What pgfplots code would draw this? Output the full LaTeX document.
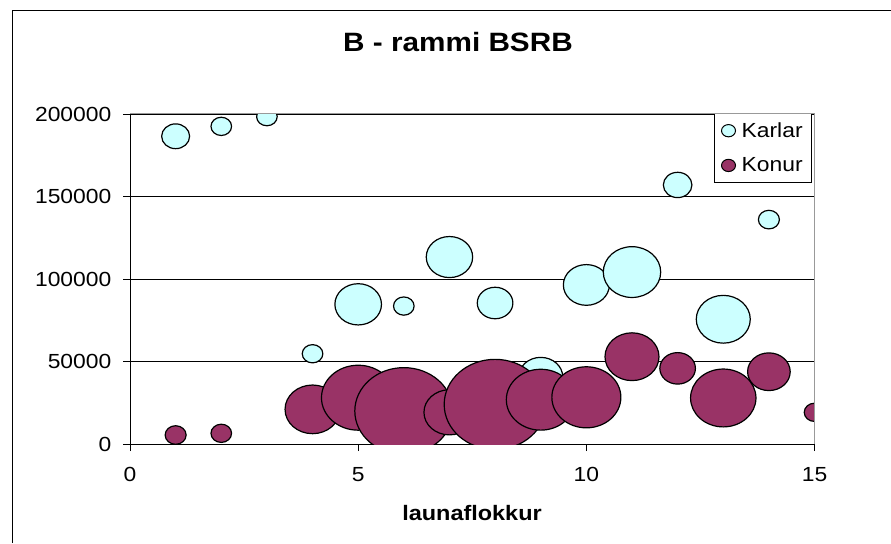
\documentclass[border=0pt]{standalone}
\usepackage{fontspec}
\setmainfont{Liberation Sans}[FakeStretch=1.12]
\usepackage{pgfplots}
\pgfplotsset{compat=1.18}
\usepackage{pgfplotstable}

\definecolor{karlar}{HTML}{CCFFFF}
\definecolor{konur}{HTML}{993366}

% x = launaflokkur, y = laun, r = horizontal bubble radius (px in the 891x543 picture)
\pgfplotstableread{
x  y      r
1  186500 14
2  192500 10.3
3  198400 10.3
4  54700  10.3
5  84650  23.3
6  83600  10.3
7  113300 23.2
8  85450  17.8
9  40700  22
10 96400  23
11 104200 28.7
12 157000 14.3
13 75600  27
14 136000 10.5
}\tblkarlar

\pgfplotstableread{
x  y      r
1  5450   10.5
2  6480   10.3
4  21000  27.5
5  28060  36.7
6  20000  49
7  19200  25.5
8  24000  50.9
9  26850  34.4
10 28300  34.5
11 52900  27
12 45850  17.8
13 27900  32.7
14 43800  21.3
15 19200  10.3
}\tblkonur

\pgfplotsset{
  bubble/.style={scatter, only marks, mark=*,
    scatter/use mapped color={draw=black, fill=#1},
    mark options={xscale=1.13, line width=0.9pt},
    visualization depends on={\thisrow{r}*0.75/1.13 \as \rad},
    scatter/@pre marker code/.append style={/tikz/mark size=\rad},
    legend image code/.code={\draw[draw=black, line width=0.75pt, fill=#1]
      (0pt,0pt) ellipse [x radius=5.25pt, y radius=4.6pt];
      \path (7.5pt,0pt);}},
}

\begin{document}
\begin{tikzpicture}[x=0.75pt,y=0.75pt]
\useasboundingbox (0,0) rectangle (891,543);
\draw[line width=0.75pt] (12,0) -- (12,532) -- (891,532);
\begin{axis}[
  at={(97.5pt,74.25pt)}, anchor=south west,
  scale only axis, width=513.4pt, height=247.5pt,
  xmin=0, xmax=15, ymin=0, ymax=200000,
  xtick={0,5,10,15}, ytick={0,50000,100000,150000,200000},
  scaled y ticks=false,
  axis lines=left, axis line style={-, line width=0.75pt},
  tick align=outside, major tick length=5.25pt,
  tick style={black, line width=0.75pt},
  ymajorgrids, grid style={black, line width=0.6pt},
  ticklabel style={font=\fontsize{15.3}{18}\selectfont},
  /pgf/number format/assume math mode=true,
  yticklabel style={xshift=-5.25pt, /pgf/number format/.cd, fixed, 1000 sep={}},
  xticklabel style={yshift=-9pt},
  clip marker paths=true,
  legend style={at={(0.997,1.003)}, anchor=north east, draw=black,
    line width=0.75pt, fill=white, font=\fontsize{15.3}{18}\selectfont,
    inner xsep=5pt, inner ysep=4.6pt, row sep=9.75pt, nodes={inner sep=2pt}},
  legend cell align=left,
]
\addplot[bubble=karlar] table[x=x, y=y] {\tblkarlar};
\addlegendentry{Karlar}
\addplot[bubble=konur] table[x=x, y=y] {\tblkonur};
\addlegendentry{Konur}
\end{axis}
\draw[gray!80, line width=0.75pt] (130,429) -- (814.5,429) -- (814.5,99);
\node[anchor=base, font=\fontsize{19.9}{24}\selectfont\bfseries] at (458,491.3) {B - rammi BSRB};
\node[anchor=base, font=\fontsize{15.7}{19}\selectfont\bfseries] at (472,23) {launaflokkur};
\end{tikzpicture}
\end{document}
